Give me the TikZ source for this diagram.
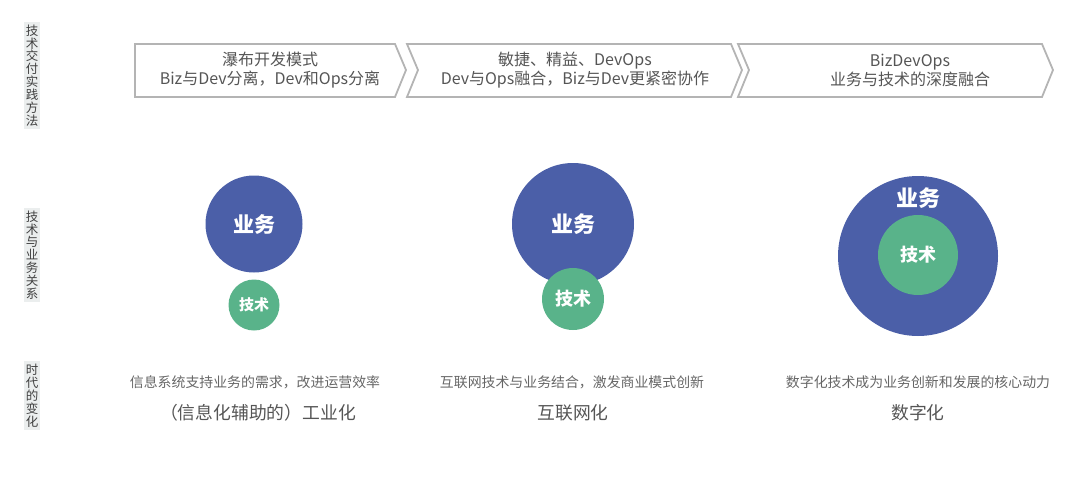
\documentclass[tikz,border=0pt]{standalone}
\usepackage{fontspec}
\setmainfont{Noto Sans CJK SC}
\definecolor{bizblue}{HTML}{4B5FA8}
\definecolor{techgreen}{HTML}{59B38A}
\definecolor{arrowgray}{HTML}{B4B4B4}
\definecolor{textgray}{HTML}{555555}
\definecolor{tagfill}{HTML}{EBEEEE}

\tikzstyle{tag} = [fill=tagfill, text=textgray!75!black, align=center, inner xsep=1.8pt, inner ysep=2.5pt,
  font=\fontsize{12.5}{12.9}\selectfont]
\tikzstyle{stage} = [draw=arrowgray, line width=1.8pt, line join=miter]
\tikzstyle{stagetext} = [text=textgray, align=center, font=\fontsize{16}{19}\selectfont]
\tikzstyle{biz} = [circle, fill=bizblue, text=white, inner sep=0pt, font=\bfseries\fontsize{21}{21}\selectfont]
\tikzstyle{tech} = [circle, fill=techgreen, text=white, inner sep=0pt, font=\bfseries\fontsize{16}{16}\selectfont]
\tikzstyle{note} = [text=textgray!90, font=\fontsize{13.9}{13.9}\selectfont]
\tikzstyle{era} = [text=textgray, font=\fontsize{17.8}{17.8}\selectfont]

\begin{document}
\begin{tikzpicture}[x=1pt, y=-1pt]
  \useasboundingbox (0,0) rectangle (1080,496);

  % row labels
  \node[tag] (tagPractice) at (32,75.5) {技\\术\\交\\付\\实\\践\\方\\法};
  \node[tag] (tagRelation) at (32,255) {技\\术\\与\\业\\务\\关\\系};
  \node[tag] (tagEra) at (32,395.5) {时\\代\\的\\变\\化};

  % stages
  \draw[stage] (135,44) -- (395,44) -- (406,70) -- (395,97) -- (135,97) -- cycle;
  \draw[stage] (407,44) -- (731,44) -- (742,70) -- (731,97) -- (407,97) -- (418,70) -- cycle;
  \draw[stage] (738,44) -- (1042,44) -- (1053,70) -- (1042,97) -- (738,97) -- (749,70) -- cycle;
  \node[stagetext] (stageA) at (270,70.5) {瀑布开发模式\\Biz与Dev分离，Dev和Ops分离};
  \node[stagetext] (stageB) at (575,70.5) {敏捷、精益、DevOps\\Dev与Ops融合，Biz与Dev更紧密协作};
  \node[stagetext] (stageC) at (910,70.5) {BizDevOps\\业务与技术的深度融合};

  % business and technology
  \node[biz, minimum size=97pt] (bizA) at (254,224) {业务};
  \node[tech, minimum size=51pt, font=\bfseries\fontsize{15}{15}\selectfont] (techA) at (254,305) {技术};

  \node[biz, minimum size=122pt] (bizB) at (573,224) {};
  \node[font=\bfseries\fontsize{22}{22}\selectfont, text=white] (bizBtext) at (573,224) {业务};
  \node[tech, minimum size=62pt, font=\bfseries\fontsize{18}{18}\selectfont] (techB) at (573,299) {技术};

  \node[biz, minimum size=160pt] (bizC) at (918,256) {};
  \node[font=\bfseries\fontsize{22}{22}\selectfont, text=white] (bizCtext) at (918,198) {业务};
  \node[tech, minimum size=80pt, font=\bfseries\fontsize{18}{18}\selectfont] (techC) at (918,255) {技术};

  % eras
  \node[note] (noteA) at (255,382) {信息系统支持业务的需求，改进运营效率};
  \node[note] (noteB) at (572,382) {互联网技术与业务结合，激发商业模式创新};
  \node[note] (noteC) at (918,382) {数字化技术成为业务创新和发展的核心动力};
  \node[era] (eraA) at (258,413) {（信息化辅助的）工业化};
  \node[era] (eraB) at (573,413) {互联网化};
  \node[era] (eraC) at (918,413) {数字化};
\end{tikzpicture}
\end{document}
